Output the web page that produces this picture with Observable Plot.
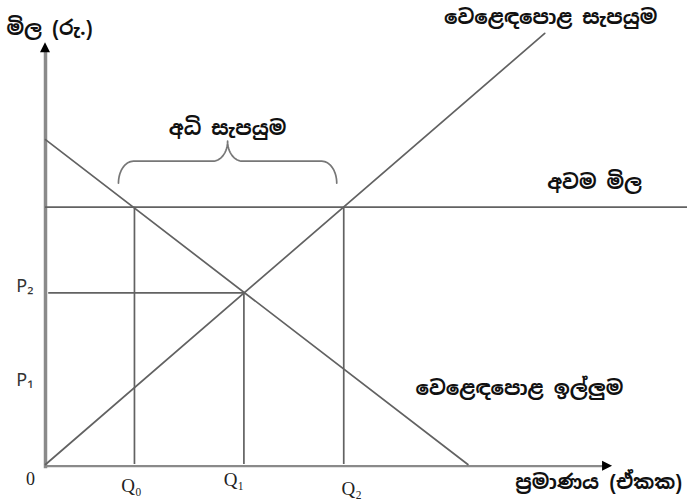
<!DOCTYPE html>
<html>
<head>
<meta charset="utf-8">
<script src="https://cdn.jsdelivr.net/npm/d3@7"></script>
<script src="https://cdn.jsdelivr.net/npm/@observablehq/plot@0.6"></script>
<style>
  html, body { margin: 0; padding: 0; background: #fff; }
  #chart { width: 687px; height: 501px; }
</style>
</head>
<body>
<div id="chart"></div>
<script>
// ---- data ----
const supplyCurve = [ {q: 0, p: 0}, {q: 78, p: 102.2} ];   // වෙළෙඳපොළ සැපයුම
const demandCurve = [ {q: 0, p: 77}, {q: 66, p: 0} ];       // වෙළෙඳපොළ ඉල්ලුම
const minPrice = 61;                                        // අවම මිල
const quantities = [ {name: "Q₀", q: 13.9}, {name: "Q₁", q: 31}, {name: "Q₂", q: 46.6} ];
const prices = [ {name: "P₂", p: 40.7}, {name: "P₁", p: 18.2} ];
const labels = {
  yTitle: "මිල (රු.)",
  xTitle: "ප්‍රමාණය (ඒකක)",
  supply: "වෙළෙඳපොළ සැපයුම",
  demand: "වෙළෙඳපොළ ඉල්ලුම",
  floor: "අවම මිල",
  excess: "අධි සැපයුම",
  origin: "0"
};
const axisEnds = { xTip: 88.6, yTip: 100 };

// ---- layout helpers ----
const W = 687, H = 501, mL = 45, mR = 2, mT = 0, mB = 37;
const xDom = [0, 100], yDom = [0, 110];
const pxX = (W - mL - mR) / (xDom[1] - xDom[0]);   // pixels per q unit
const pxY = (H - mT - mB) / (yDom[1] - yDom[0]);   // pixels per p unit

const Q0 = quantities[0].q, Q1 = quantities[1].q, Q2 = quantities[2].q;
const P2 = prices[0].p;

// vertical guides
const verticals = [
  {q: Q0, top: minPrice},
  {q: Q1, top: P2},
  {q: Q2, top: minPrice}
];

// arrowheads (in data units derived from pixel sizes)
const headLen = 10, headHalf = 5;
const yHead = [
  {x: -headHalf / pxX, y1: axisEnds.yTip - headLen / pxY, y2: axisEnds.yTip - headLen / pxY},
  {x: 0, y1: axisEnds.yTip - headLen / pxY, y2: axisEnds.yTip},
  {x: headHalf / pxX, y1: axisEnds.yTip - headLen / pxY, y2: axisEnds.yTip - headLen / pxY}
];
const xAxisY = -0.4;
const xHead = [
  {y: xAxisY - headHalf / pxY, x1: axisEnds.xTip - headLen / pxX, x2: axisEnds.xTip - headLen / pxX},
  {y: xAxisY, x1: axisEnds.xTip - headLen / pxX, x2: axisEnds.xTip},
  {y: xAxisY + headHalf / pxY, x1: axisEnds.xTip - headLen / pxX, x2: axisEnds.xTip - headLen / pxX}
];

// curly brace over the excess supply (between Q0 and Q2)
function bracePoints(L, R, yb, yh, yt) {
  const m = (L + R) / 2, rx = 15 / pxX, rc = 15 / pxX, n = 16;
  const pts = [];
  for (let i = 0; i <= n; i++) { const t = Math.PI - (Math.PI / 2) * i / n;
    pts.push({x: L + rx + rx * Math.cos(t), y: yb + (yh - yb) * Math.sin(t)}); }
  for (let i = 0; i <= n; i++) { const t = -Math.PI / 2 + (Math.PI / 2) * i / n;
    pts.push({x: m - rc + rc * Math.cos(t), y: yt + (yt - yh) * Math.sin(t)}); }
  for (let i = 0; i <= n; i++) { const t = Math.PI + (Math.PI / 2) * i / n;
    pts.push({x: m + rc + rc * Math.cos(t), y: yt + (yt - yh) * Math.sin(t)}); }
  for (let i = 0; i <= n; i++) { const t = Math.PI / 2 - (Math.PI / 2) * i / n;
    pts.push({x: R - rx + rx * Math.cos(t), y: yb + (yh - yb) * Math.sin(t)}); }
  return pts;
}
const braceL = Q0 - 16 / pxX, braceR = Q2 - 7 / pxX;
const braceYb = minPrice + 24 / pxY, braceYh = minPrice + 46 / pxY, braceYt = minPrice + 66 / pxY;
const brace = bracePoints(braceL, braceR, braceYb, braceYh, braceYt);

const lineColor = "#626262";
const axisColor = "#8a8a8a";
const sinhala = "'Noto Sans Sinhala', 'Noto Serif Sinhala', 'Iskoola Pota', 'Lohit Sinhala', 'Noto Sans', sans-serif";
const txtStyle = {fill: "#111", fontFamily: sinhala, fontSize: 20, fontWeight: "bold"};
const qStyle = {fontFamily: "'Liberation Serif', 'DejaVu Serif', serif", fontSize: 19, fill: "#222"};

const chart = Plot.plot({
  width: W, height: H,
  marginLeft: mL, marginRight: mR, marginTop: mT, marginBottom: mB,
  x: {domain: xDom, axis: null},
  y: {domain: yDom, axis: null},
  style: {background: "white", overflow: "visible"},
  marks: [
    // axes
    Plot.ruleX([0], {y1: -1, y2: axisEnds.yTip - headLen / pxY + 0.3, stroke: axisColor, strokeWidth: 3.5}),
    Plot.ruleY([xAxisY], {x1: 0, x2: axisEnds.xTip - headLen / pxX + 0.3, stroke: axisColor, strokeWidth: 2.2}),
    Plot.areaY(yHead, {x: "x", y1: "y1", y2: "y2", fill: "#000"}),
    Plot.areaX(xHead, {y: "y", x1: "x1", x2: "x2", fill: "#000"}),
    // minimum price line
    Plot.ruleY([minPrice], {x1: 0, x2: 101, stroke: lineColor, strokeWidth: 1.7}),
    // P2 guide
    Plot.ruleY([P2], {x1: 0.5, x2: Q1, stroke: lineColor, strokeWidth: 1.7}),
    // vertical guides
    Plot.ruleX(verticals, {x: "q", y1: 0, y2: "top", stroke: lineColor, strokeWidth: 1.7}),
    // curves
    Plot.line(supplyCurve, {x: "q", y: "p", stroke: lineColor, strokeWidth: 1.7}),
    Plot.line(demandCurve, {x: "q", y: "p", stroke: lineColor, strokeWidth: 1.7}),
    // brace
    Plot.line(brace, {x: "x", y: "y", stroke: "#777", strokeWidth: 1.7}),
    // Sinhala labels
    Plot.text([labels.yTitle], {x: -6.1, y: 103.4, text: d => d, textAnchor: "start", ...txtStyle}),
    Plot.text([labels.supply], {x: 95.6, y: 106, text: d => d, textAnchor: "end", ...txtStyle}),
    Plot.text([labels.excess], {x: (braceL + braceR) / 2, y: braceYt, dy: -13, text: d => d, ...txtStyle}),
    Plot.text([labels.floor], {x: 85.8, y: minPrice, dy: -25, text: d => d, ...txtStyle}),
    Plot.text([labels.demand], {x: 57.8, y: 18, text: d => d, textAnchor: "start", ...txtStyle}),
    Plot.text([labels.xTitle], {x: 99.5, y: 0, dy: 18, text: d => d, textAnchor: "end", ...txtStyle}),
    // origin and Q labels
    Plot.text([labels.origin], {x: 0, y: 0, dx: -15, dy: 15, text: d => d, ...qStyle, fontSize: 18}),
    Plot.text([quantities[0]], {x: "q", y: 0, dx: -3, dy: 21, text: "name", ...qStyle}),
    Plot.text([quantities[1]], {x: "q", y: 0, dx: -10, dy: 15, text: "name", ...qStyle}),
    Plot.text([quantities[2]], {x: "q", y: 0, dx: 8, dy: 24, text: "name", ...qStyle}),
    // P labels
    Plot.text(prices, {x: 0, y: "p", dx: -12, dy: -7, text: "name", textAnchor: "end", fontFamily: "'Noto Sans', 'DejaVu Sans', sans-serif", fontSize: 18, fill: "#333"})
  ]
});
document.getElementById("chart").appendChild(chart);
</script>
</body>
</html>
